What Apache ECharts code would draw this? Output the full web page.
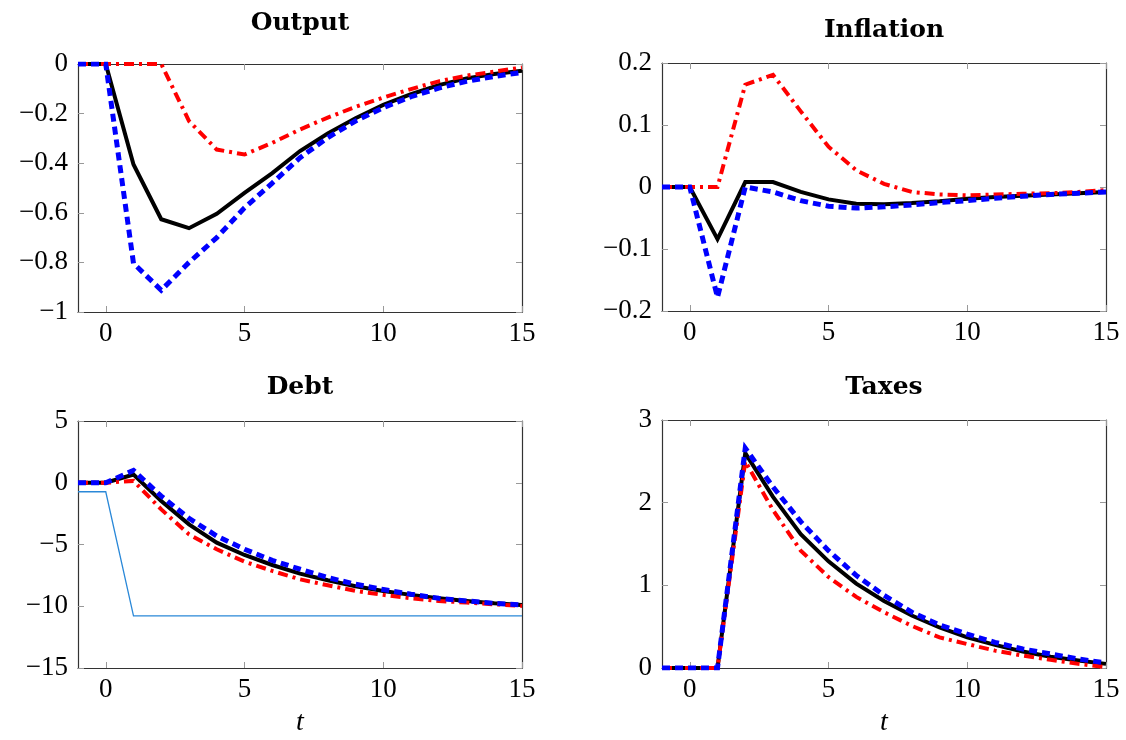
<!DOCTYPE html>
<html>
<head>
<meta charset="utf-8">
<script src="https://cdn.jsdelivr.net/npm/echarts@6/dist/echarts.min.js"></script>
<style>
  html, body { margin: 0; padding: 0; background: #fff; }
  #chart { width: 1126px; height: 740px; }
</style>
</head>
<body>
<div id="chart"></div>
<script>
// horizon t = -1 .. 15
const periods = [-1, 0, 1, 2, 3, 4, 5, 6, 7, 8, 9, 10, 11, 12, 13, 14, 15];
const xTicks = [0, 5, 10, 15];

const outputBlack = [0, 0, -0.405, -0.626, -0.662, -0.604, -0.52, -0.44, -0.351, -0.28, -0.219, -0.165, -0.122, -0.085, -0.058, -0.04, -0.027];
const outputRed = [0, 0, 0, 0, -0.23, -0.345, -0.365, -0.318, -0.264, -0.216, -0.173, -0.135, -0.101, -0.07, -0.047, -0.031, -0.014];
const outputBlue = [0, 0, -0.804, -0.912, -0.8, -0.7, -0.58, -0.48, -0.378, -0.297, -0.23, -0.176, -0.132, -0.097, -0.07, -0.05, -0.034];

const inflationBlack = [0, 0, -0.084, 0.008, 0.008, -0.008, -0.02, -0.027, -0.028, -0.026, -0.023, -0.019, -0.016, -0.014, -0.012, -0.01, -0.008];
const inflationRed = [0, 0, 0, 0.165, 0.181, 0.122, 0.065, 0.027, 0.005, -0.008, -0.012, -0.0135, -0.012, -0.011, -0.01, -0.008, -0.005];
const inflationBlue = [0, 0, -0.178, 0, -0.008, -0.022, -0.031, -0.034, -0.032, -0.029, -0.025, -0.022, -0.018, -0.015, -0.012, -0.01, -0.008];

const debtBlack = [0, 0, 0.67, -1.48, -3.37, -4.85, -5.85, -6.66, -7.36, -7.9, -8.38, -8.76, -9.08, -9.35, -9.57, -9.76, -9.89];
const debtRed = [0, 0, 0.15, -2.16, -4.18, -5.39, -6.39, -7.14, -7.82, -8.3, -8.76, -9.08, -9.35, -9.57, -9.7, -9.84, -9.97];
const debtBlue = [0, 0, 1.0, -1.08, -2.88, -4.31, -5.39, -6.28, -7.0, -7.68, -8.22, -8.65, -9.03, -9.35, -9.57, -9.76, -9.89];
const debtTarget = [-0.73, -0.73, -10.78, -10.78, -10.78, -10.78, -10.78, -10.78, -10.78, -10.78, -10.78, -10.78, -10.78, -10.78, -10.78, -10.78, -10.78];

const taxesBlack = [0, 0, 0, 2.6, 2.07, 1.62, 1.29, 1.02, 0.81, 0.635, 0.49, 0.37, 0.28, 0.2, 0.137, 0.09, 0.05];
const taxesRed = [0, 0, 0, 2.5, 1.91, 1.42, 1.1, 0.86, 0.675, 0.51, 0.37, 0.29, 0.21, 0.15, 0.1, 0.05, 0.01];
const taxesBlue = [0, 0, 0, 2.66, 2.19, 1.77, 1.42, 1.12, 0.88, 0.675, 0.52, 0.41, 0.31, 0.23, 0.17, 0.11, 0.06];

const panelTitles = ['Output', 'Inflation', 'Debt', 'Taxes'];
const yRanges = [[-1, 0, 0.2], [-0.2, 0.2, 0.1], [-15, 5, 5], [0, 3, 1]];

const chart = echarts.init(document.getElementById('chart'));

const serif = 'Liberation Serif';
const frame = { show: true, onZero: false, lineStyle: { color: '#333', width: 1.2 } };
const ticks = { show: true, inside: true, length: 6, lineStyle: { color: '#999', width: 1 } };
const minus = v => String(v).replace('-', '\u2212');

const grids = [
  { left: 78, top: 64, width: 444, height: 248 },
  { left: 662, top: 63, width: 444, height: 248 },
  { left: 78, top: 421, width: 444, height: 247 },
  { left: 662, top: 420, width: 444, height: 248 }
];

const xAxes = [];
const yAxes = [];
grids.forEach((g, i) => {
  // bottom axis with labels, top axis only for the frame and ticks
  xAxes.push({
    type: 'value', gridIndex: i, min: -1, max: 15, position: 'bottom',
    axisLine: frame,
    axisTick: Object.assign({ customValues: xTicks }, ticks),
    axisLabel: { customValues: xTicks, color: '#000', fontFamily: serif, fontSize: 27, margin: 8 },
    splitLine: { show: false }
  });
  xAxes.push({
    type: 'value', gridIndex: i, min: -1, max: 15, position: 'top',
    axisLine: frame,
    axisTick: Object.assign({ customValues: xTicks }, ticks),
    axisLabel: { show: false },
    splitLine: { show: false }
  });
  const [lo, hi, step] = yRanges[i];
  yAxes.push({
    type: 'value', gridIndex: i, min: lo, max: hi, interval: step, position: 'left',
    axisLine: frame, axisTick: ticks,
    axisLabel: { color: '#000', fontFamily: serif, fontSize: 27, margin: 10, formatter: minus },
    splitLine: { show: false }
  });
  yAxes.push({
    type: 'value', gridIndex: i, min: lo, max: hi, interval: step, position: 'right',
    axisLine: frame, axisTick: ticks,
    axisLabel: { show: false },
    splitLine: { show: false }
  });
});

const pairs = vals => periods.map((t, k) => [t, vals[k]]);

function line(panel, vals, style) {
  return {
    type: 'line', xAxisIndex: panel * 2, yAxisIndex: panel * 2,
    data: pairs(vals), symbol: 'none', silent: true,
    lineStyle: Object.assign({ cap: 'butt', join: 'miter' }, style)
  };
}

const black = { color: '#000', width: 4 };
const red = { color: '#ff0000', width: 4, type: [10, 5, 3, 5] };
const blue = { color: '#0000ff', width: 5, type: [8, 5] };

const series = [
  line(0, outputBlack, black), line(0, outputRed, red), line(0, outputBlue, blue),
  line(1, inflationBlack, black), line(1, inflationRed, red), line(1, inflationBlue, blue),
  line(2, debtBlack, black), line(2, debtRed, red), line(2, debtBlue, blue),
  line(2, debtTarget, { color: '#2a88d8', width: 1.3 }),
  line(3, taxesBlack, black), line(3, taxesRed, red), line(3, taxesBlue, blue)
];

// panel titles and the t labels
const titleSpots = [[300, 36], [884, 43], [300, 400], [884, 400]];
const texts = panelTitles.map((name, i) => ({
  type: 'text', x: titleSpots[i][0], y: titleSpots[i][1],
  style: {
    text: name, fill: '#000', font: 'bold 25px "DejaVu Serif", serif',
    textAlign: 'center', textVerticalAlign: 'bottom'
  }
}));
[300, 884].forEach(x => texts.push({
  type: 'text', x: x, y: 723,
  style: {
    text: 't', fill: '#000', font: 'italic 28px "Liberation Serif", serif',
    textAlign: 'center', textVerticalAlign: 'middle'
  }
}));

chart.setOption({
  animation: false,
  backgroundColor: '#fff',
  grid: grids,
  xAxis: xAxes,
  yAxis: yAxes,
  series: series,
  graphic: texts
});
</script>
</body>
</html>
